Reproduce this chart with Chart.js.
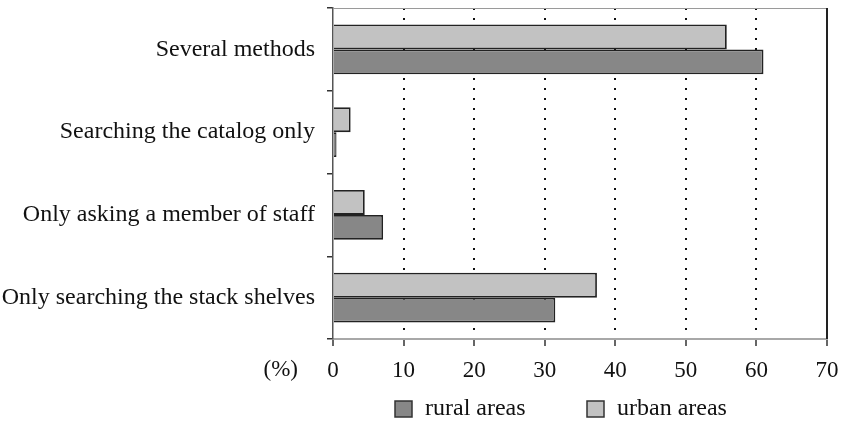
<!DOCTYPE html>
<html>
<head>
<meta charset="utf-8">
<script src="https://cdn.jsdelivr.net/npm/chart.js@4/dist/chart.umd.min.js"></script>
<style>
  html, body { margin: 0; padding: 0; background: #fff; }
  #wrap { width: 841px; height: 423px; position: relative; }
</style>
</head>
<body>
<div id="wrap"><canvas id="c" width="841" height="423"></canvas></div>
<script>
const categories = [
  "Several methods",
  "Searching the catalog only",
  "Only asking a member of staff",
  "Only searching the stack shelves"
];
const urbanValues = [55.8, 2.5, 4.5, 37.4];
const ruralValues = [61.0, 0.5, 7.1, 31.5];
const xTicks = [0, 10, 20, 30, 40, 50, 60, 70];
const seriesNames = ["urban areas", "rural areas"];
const axisUnit = "(%)";

const FONT = "'Liberation Serif', 'Times New Roman', serif";
const FSIZE = 23;
const LSIZE = 24;

const framePlugin = {
  id: 'frame',
  afterDraw(chart) {
    const { ctx, chartArea: a } = chart;
    ctx.save();
    // top border
    ctx.strokeStyle = '#9a9a9a';
    ctx.lineWidth = 1;
    ctx.beginPath();
    ctx.moveTo(a.left, a.top + 0.5);
    ctx.lineTo(a.right, a.top + 0.5);
    ctx.stroke();
    // right border
    ctx.strokeStyle = '#222';
    ctx.lineWidth = 2;
    ctx.beginPath();
    ctx.moveTo(a.right, a.top);
    ctx.lineTo(a.right, a.bottom);
    ctx.stroke();
    // unit label
    ctx.fillStyle = '#111';
    ctx.font = FSIZE + 'px ' + FONT;
    ctx.textAlign = 'right';
    ctx.textBaseline = 'middle';
    ctx.fillText(axisUnit, a.left - 35, a.bottom + 31);
    // legend (rural first, then urban)
    ctx.font = LSIZE + 'px ' + FONT;
    const order = [1, 0];
    const xs = [a.left + 62, a.left + 254];
    const y = a.bottom + 62;
    order.forEach((di, k) => {
      const ds = chart.data.datasets[di];
      const bx = xs[k];
      ctx.fillStyle = ds.backgroundColor;
      ctx.fillRect(bx, y, 17, 16);
      ctx.strokeStyle = '#333';
      ctx.lineWidth = 1.5;
      ctx.strokeRect(bx, y, 17, 16);
      ctx.fillStyle = '#111';
      ctx.textAlign = 'left';
      ctx.textBaseline = 'middle';
      ctx.fillText(ds.label, bx + 30, y + 8);
    });
    ctx.restore();
  }
};

new Chart(document.getElementById('c'), {
  type: 'bar',
  data: {
    labels: categories,
    datasets: [
      {
        label: seriesNames[0],
        data: urbanValues,
        backgroundColor: '#c2c2c2',
        borderColor: '#222',
        borderWidth: 1.8,
        barPercentage: 1.0,
        categoryPercentage: 0.6
      },
      {
        label: seriesNames[1],
        data: ruralValues,
        backgroundColor: '#878787',
        borderColor: '#222',
        borderWidth: 1.8,
        barPercentage: 1.0,
        categoryPercentage: 0.6
      }
    ]
  },
  options: {
    indexAxis: 'y',
    responsive: false,
    animation: false,
    devicePixelRatio: 1,
    layout: { padding: { top: 8, right: 14, left: 0, bottom: 0 } },
    plugins: {
      legend: { display: false },
      tooltip: { enabled: false }
    },
    scales: {
      x: {
        type: 'linear',
        min: xTicks[0],
        max: xTicks[xTicks.length - 1],
        afterBuildTicks(scale) { scale.ticks = xTicks.map(v => ({ value: v })); },
        afterFit(scale) {
          scale.height = 84;
          scale.paddingLeft = 0; scale.paddingRight = 0;
        },
        ticks: {
          color: '#111',
          font: { family: FONT, size: FSIZE },
          padding: 11
        },
        grid: {
          color: (c) => (c.tick && (c.tick.value === 0 || c.tick.value === 70)) ? 'rgba(0,0,0,0)' : '#111',
          lineWidth: 2,
          drawTicks: true,
          tickLength: 7,
          tickColor: '#333',
          tickWidth: 1.5,
          tickBorderDash: []
        },
        border: { display: true, color: '#a8a8a8', width: 2, dash: [2, 8] }
      },
      y: {
        type: 'category',
        afterFit(scale) {
          scale.width = 333;
          scale.paddingTop = 0; scale.paddingBottom = 0;
        },
        ticks: {
          color: '#111',
          font: { family: FONT, size: LSIZE },
          padding: 12
        },
        grid: {
          offset: true,
          drawOnChartArea: false,
          drawTicks: true,
          tickLength: 6,
          color: '#333',
          lineWidth: 1.5
        },
        border: { display: true, color: '#555', width: 1.5 }
      }
    }
  },
  plugins: [framePlugin]
});
</script>
</body>
</html>
